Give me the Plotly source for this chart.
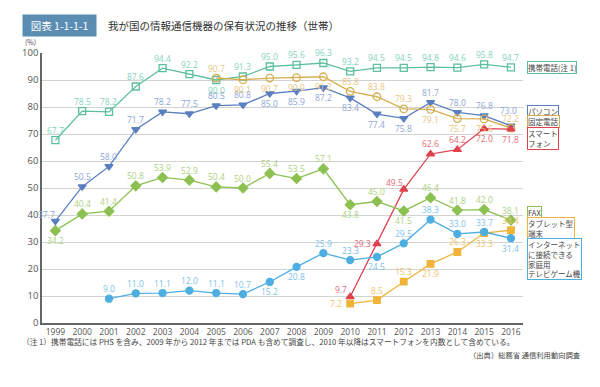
import plotly.graph_objects as go

years = list(range(1999, 2017))

mobile = [67.7, 78.5, 78.2, 87.6, 94.4, 92.2, 90.0, 91.3, 95.0, 95.6, 96.3, 93.2, 94.5, 94.5, 94.8, 94.6, 95.8, 94.7]
pc = [37.7, 50.5, 58.0, 71.7, 78.2, 77.5, 80.5, 80.8, 85.0, 85.9, 87.2, 83.4, 77.4, 75.8, 81.7, 78.0, 76.8, 73.0]
fixed = [None] * 6 + [90.7, 90.1, 90.7, 90.9, 91.2, 85.8, 83.8, 79.3, 79.1, 75.7, 75.6, 72.2]
smart = [None] * 11 + [9.7, 29.3, 49.5, 62.6, 64.2, 72.0, 71.8]
fax = [34.2, 40.4, 41.4, 50.8, 53.9, 52.9, 50.4, 50.0, 55.4, 53.5, 57.1, 43.8, 45.0, 41.5, 46.4, 41.8, 42.0, 38.1]
tablet = [None] * 11 + [7.2, 8.5, 15.3, 21.9, 26.3, 33.3, 34.4]
game = [None, None, 9.0, 11.0, 11.1, 12.0, 11.1, 10.7, 15.2, 20.8, 25.9, 23.3, 24.5, 29.5, 38.3, 33.0, 33.7, 31.4]

# fixed-line phones start in 2005 (6 years after 1999)
fixed = fixed[-18:]

# label positions: a=above, A=further above, b=below, l=left, L=above-left
mobile_pos = "aaaaaabaaaaaaaaaaa"
pc_pos = "LaaaaaaabbbbbbaaaA"
fixed_pos = "aaaaaaabbbbaaabbba"
smart_pos = "aaaaaaaaaaaLlLaabb"
fax_pos = "baaaaaaaaaababaaaa"
tablet_pos = "aaaaaaaaaaalaababa"
game_pos = "aaaaaaaabbaabaaaab"

SHIFT = {"a": (0, 10), "A": (-2, 15), "b": (0, -10), "l": (-14, 0), "L": (-9, 7)}

series = [
    ("携帯電話", mobile, mobile_pos, "#5cbf9f", "#85d3bd", "square-open", 7),
    ("パソコン", pc, pc_pos, "#5a7fc0", "#8ea5d6", "triangle-down", 7),
    ("固定電話", fixed, fixed_pos, "#d6ad50", "#e6c67e", "circle-open", 7.5),
    ("スマートフォン", smart, smart_pos, "#e0414f", "#e76a74", "triangle-up", 7),
    ("FAX", fax, fax_pos, "#8cc152", "#aed27f", "diamond", 7.5),
    ("タブレット型端末", tablet, tablet_pos, "#f0b43a", "#f2c46a", "square", 6.5),
    ("ゲーム機", game, game_pos, "#4eaee2", "#7dc3ea", "circle", 7),
]

fig = go.Figure()
ann = []
for name, vals, pos, col, lcol, sym, ms in series:
    x = [y for y, v in zip(years, vals) if v is not None]
    v = [vv for vv in vals if vv is not None]
    p = [c for c, vv in zip(pos, vals) if vv is not None]
    fig.add_trace(go.Scatter(
        x=x, y=v, mode="lines+markers", name=name,
        line=dict(color=col, width=1.3),
        marker=dict(symbol=sym, size=ms, color=col, line=dict(color=col, width=1.3)),
        cliponaxis=False, showlegend=False, hoverinfo="skip",
    ))
    for xx, vv, cc in zip(x, v, p):
        dx, dy = SHIFT[cc]
        ann.append(dict(x=xx, y=vv, xref="x", yref="y", text=f"{vv:.1f}", showarrow=False,
                        xshift=dx, yshift=dy, xanchor="center", yanchor="middle",
                        font=dict(color=lcol, size=8.5, family="Open Sans")))

fig.update_layout(
    width=600, height=387,
    margin=dict(l=42, r=77, t=53, b=64),
    paper_bgcolor="white", plot_bgcolor="white",
    font=dict(family="Noto Sans CJK JP", size=9, color="#555555"),
    xaxis=dict(range=[1998.5, 2016.45], tickmode="array", tickvals=years,
               ticktext=[str(y) for y in years], showgrid=False,
               showline=True, linecolor="#666666", linewidth=1.5, ticks="",
               tickfont=dict(size=8.5, color="#555555", family="Open Sans")),
    yaxis=dict(range=[0, 100], tickvals=list(range(0, 101, 10)), showgrid=True,
               gridcolor="#d3d3d3", gridwidth=1, showline=True, linecolor="#666666",
               linewidth=1.5, zeroline=False, ticks="",
               tickfont=dict(size=9.5, color="#555555", family="Open Sans")),
)


def py(ypx):
    return 1 - (ypx - 53) / 270


def px(xpx):
    return (xpx - 42) / 481


ann.append(dict(xref="paper", yref="paper", x=px(22), y=py(26), xanchor="left", yanchor="middle",
                text="  図表 1-1-1-1  ", showarrow=False, bgcolor="#5b8db3",
                font=dict(color="white", size=10.5, family="Noto Sans CJK JP"), borderpad=3))
ann.append(dict(xref="paper", yref="paper", x=px(106), y=py(26), xanchor="left", yanchor="middle",
                text="我が国の情報通信機器の保有状況の推移（世帯）", showarrow=False,
                font=dict(color="#333333", size=10.5, family="Noto Sans CJK JP")))
ann.append(dict(xref="paper", yref="paper", x=px(30), y=py(41.5), xanchor="center", yanchor="middle",
                text="(%)", showarrow=False, font=dict(size=7, color="#555555")))

legend_boxes = [
    ("携帯電話(注 1)", 67.5, "#5cbf9f"),
    ("パソコン", 111, "#5a7fc0"),
    ("固定電話", 121.5, "#d6ad50"),
    ("スマート<br>フォン", 138, "#e0414f"),
    ("FAX", 212.5, "#8cc152"),
    ("タブレット型<br>端末", 228, "#f0b43a"),
    ("インターネット<br>に接続できる<br>家庭用<br>テレビゲーム機", 259, "#4eaee2"),
]
for txt, ypx, col in legend_boxes:
    ann.append(dict(xref="paper", yref="paper", x=px(527), y=py(ypx),
                    xanchor="left", yanchor="middle", align="left", text=txt, showarrow=False,
                    bordercolor=col, borderwidth=1, borderpad=0, bgcolor="white",
                    font=dict(size=7.5, color="#444444", family="Noto Sans CJK JP")))

ann.append(dict(xref="paper", yref="paper", x=px(20), y=py(341), xanchor="left", yanchor="middle",
                text="（注 1）携帯電話には PHS を含み、2009 年から 2012 年までは PDA も含めて調査し、2010 年以降はスマートフォンを内数として含めている。",
                showarrow=False, font=dict(size=7.7, color="#444444", family="Noto Sans CJK JP")))
ann.append(dict(xref="paper", yref="paper", x=px(583), y=py(355), xanchor="right", yanchor="middle",
                text="（出典）総務省 通信利用動向調査",
                showarrow=False, font=dict(size=7.3, color="#444444", family="Noto Sans CJK JP")))

fig.update_layout(annotations=ann)
fig.write_html("out.html", config={"displayModeBar": False},
               post_script="document.body.style.margin='0';document.body.style.overflow='hidden';")
